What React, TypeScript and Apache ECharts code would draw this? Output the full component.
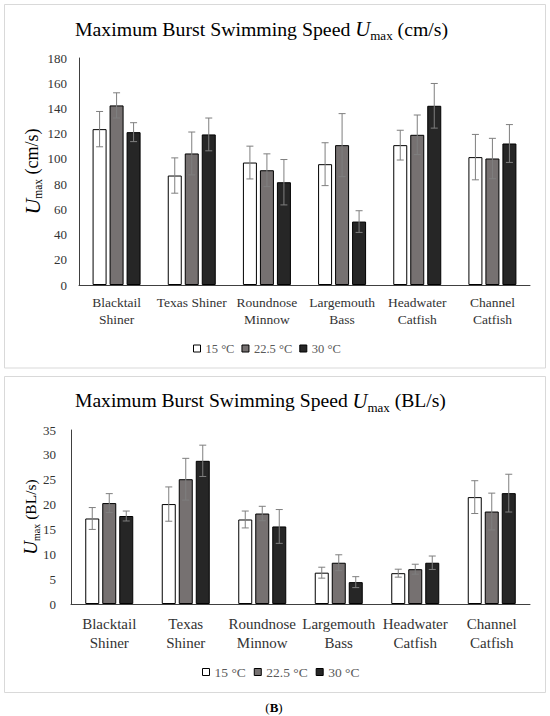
import React, { useEffect, useRef } from 'react';
import * as echarts from 'echarts';

const FONT = 'Liberation Serif';

const categoriesTop = ['Blacktail\nShiner', 'Texas Shiner', 'Roundnose\nMinnow', 'Largemouth\nBass', 'Headwater\nCatfish', 'Channel\nCatfish'];
const categoriesBottom = ['Blacktail\nShiner', 'Texas\nShiner', 'Roundnose\nMinnow', 'Largemouth\nBass', 'Headwater\nCatfish', 'Channel\nCatfish'];
const temps = ['15 °C', '22.5 °C', '30 °C'];

const cmsMean15 = [123.6, 86.8, 97.1, 95.8, 110.9, 101.4];
const cmsMean225 = [142.4, 104.3, 91.0, 110.9, 119.1, 100.3];
const cmsMean30 = [121.2, 119.4, 81.5, 50.3, 142.1, 112.2];
const cmsErr15 = [14, 14, 13, 17, 11.8, 18];
const cmsErr225 = [10, 17, 13, 25, 15.7, 16];
const cmsErr30 = [7.5, 13, 18, 8.6, 17.7, 15];

const blMean15 = [17.2, 20.1, 17.0, 6.3, 6.2, 21.5];
const blMean225 = [20.3, 25.1, 18.2, 8.3, 7.0, 18.6];
const blMean30 = [17.7, 28.8, 15.6, 4.4, 8.3, 22.3];
const blErr15 = [2.2, 3.45, 1.7, 1.1, 0.8, 3.3];
const blErr225 = [1.9, 4.2, 1.45, 1.6, 1.0, 3.7];
const blErr30 = [1.0, 3.15, 3.4, 1.1, 1.35, 3.8];

const topTicks = { min: 0, max: 180, interval: 20 };
const bottomTicks = { min: 0, max: 35, interval: 5 };

const COLORS = ['#ffffff', '#767171', '#262626'];
const ERR = '#7f7f7f';
const AXIS = '#404040';
const BAR_W = 14;
const GAP = 3;

function barSeries(name: string, data: number[], idx: number, color: string) {
  return {
    type: 'bar',
    name,
    xAxisIndex: idx,
    yAxisIndex: idx,
    data,
    barWidth: BAR_W,
    barGap: (GAP / BAR_W) * 100 + '%',
    itemStyle: { color, borderColor: '#000', borderWidth: 1 },
    z: 2,
  };
}

function errSeries(name: string, means: number[], errs: number[], idx: number, slot: number) {
  const offset = (slot - 1) * (BAR_W + GAP);
  return {
    type: 'custom',
    name,
    xAxisIndex: idx,
    yAxisIndex: idx,
    z: 10,
    data: means.map((m, i) => [i, m, errs[i]]),
    encode: { x: 0, y: 1 },
    renderItem: (params: any, api: any) => {
      const c = api.value(0);
      const m = api.value(1);
      const e = api.value(2);
      const top = api.coord([c, m + e]);
      const bot = api.coord([c, m - e]);
      const x = top[0] + offset;
      const st = { stroke: ERR, lineWidth: 1 };
      return {
        type: 'group',
        children: [
          { type: 'line', shape: { x1: x, y1: top[1], x2: x, y2: bot[1] }, style: st },
          { type: 'line', shape: { x1: x - 3.5, y1: top[1], x2: x + 3.5, y2: top[1] }, style: st },
          { type: 'line', shape: { x1: x - 3.5, y1: bot[1], x2: x + 3.5, y2: bot[1] }, style: st },
        ],
      };
    },
  };
}

function richName(fs: number, sub: number, uSize: number) {
  return {
    fontFamily: FONT,
    fontSize: fs,
    color: '#000',
    lineHeight: fs + 6,
    rich: {
      i: { fontFamily: FONT, fontStyle: 'italic', fontSize: uSize, lineHeight: fs + 6, color: '#000' },
      s: { fontFamily: FONT, fontSize: sub, lineHeight: sub + 1, verticalAlign: 'bottom', color: '#000' },
    },
  };
}

function legendData() {
  return temps.map((t, i) => ({
    name: t,
    itemStyle: { color: COLORS[i], borderColor: '#000', borderWidth: 1 },
  }));
}

export default function App() {
  const ref = useRef<HTMLDivElement>(null);
  useEffect(() => {
    const chart = echarts.init(ref.current!, null, { renderer: 'svg' });
    const option: any = {
      animation: false,
      backgroundColor: '#fff',
      textStyle: { fontFamily: FONT },
      title: [
        {
          text: 'Maximum Burst Swimming Speed {i|U}{s|max} (cm/s)',
          left: 70,
          top: 11,
          padding: 5,
          textStyle: { ...richName(19.8, 13, 20.8), fontWeight: 'normal' },
        },
        {
          text: 'Maximum Burst Swimming Speed {i|U}{s|max} (BL/s)',
          left: 70,
          top: 383,
          padding: 5,
          textStyle: { ...richName(19.6, 13, 20.6), fontWeight: 'normal' },
        },
      ],
      legend: [
        {
          left: 193,
          top: 342,
          padding: 0,
          itemWidth: 7,
          itemHeight: 7,
          itemGap: 7,
          icon: 'rect',
          textStyle: { fontFamily: FONT, fontSize: 12.5, color: '#595959' },
          data: legendData(),
        },
        {
          left: 202,
          top: 665,
          padding: 0,
          itemWidth: 7,
          itemHeight: 7,
          itemGap: 8,
          icon: 'rect',
          textStyle: { fontFamily: FONT, fontSize: 13.5, color: '#595959' },
          data: legendData(),
        },
      ],
      grid: [
        { left: 79, right: 20, top: 58, height: 227 },
        { left: 71, right: 20, top: 430, height: 174 },
      ],
      xAxis: [
        {
          type: 'category',
          gridIndex: 0,
          data: categoriesTop,
          axisLine: { lineStyle: { color: AXIS, width: 1 } },
          axisTick: { show: false },
          axisLabel: { interval: 0, fontFamily: FONT, fontSize: 13.5, color: '#333', lineHeight: 17, margin: 9 },
        },
        {
          type: 'category',
          gridIndex: 1,
          data: categoriesBottom,
          axisLine: { lineStyle: { color: AXIS, width: 1 } },
          axisTick: { show: false },
          axisLabel: { interval: 0, fontFamily: FONT, fontSize: 15, color: '#333', lineHeight: 19, margin: 10 },
        },
      ],
      yAxis: [
        {
          type: 'value',
          gridIndex: 0,
          ...topTicks,
          axisLine: { show: true, lineStyle: { color: AXIS, width: 1 } },
          axisTick: { show: false },
          splitLine: { show: false },
          axisLabel: { fontFamily: FONT, fontSize: 13, color: '#333', margin: 12 },
          name: '{i|U}{s|max} (cm/s)',
          nameLocation: 'middle',
          nameRotate: 90,
          nameGap: 35,
          nameMoveOverlap: false,
          nameTextStyle: richName(18, 11.5, 22),
        },
        {
          type: 'value',
          gridIndex: 1,
          ...bottomTicks,
          axisLine: { show: true, lineStyle: { color: AXIS, width: 1 } },
          axisTick: { show: false },
          splitLine: { show: false },
          axisLabel: { fontFamily: FONT, fontSize: 13, color: '#333', margin: 15 },
          name: '{i|U}{s|max} (BL/s)',
          nameLocation: 'middle',
          nameRotate: 90,
          nameGap: 30,
          nameMoveOverlap: false,
          nameTextStyle: richName(15.5, 10, 19),
        },
      ],
      series: [
        barSeries(temps[0], cmsMean15, 0, COLORS[0]),
        barSeries(temps[1], cmsMean225, 0, COLORS[1]),
        barSeries(temps[2], cmsMean30, 0, COLORS[2]),
        barSeries(temps[0], blMean15, 1, COLORS[0]),
        barSeries(temps[1], blMean225, 1, COLORS[1]),
        barSeries(temps[2], blMean30, 1, COLORS[2]),
        errSeries('err-cm-15', cmsMean15, cmsErr15, 0, 0),
        errSeries('err-cm-22.5', cmsMean225, cmsErr225, 0, 1),
        errSeries('err-cm-30', cmsMean30, cmsErr30, 0, 2),
        errSeries('err-bl-15', blMean15, blErr15, 1, 0),
        errSeries('err-bl-22.5', blMean225, blErr225, 1, 1),
        errSeries('err-bl-30', blMean30, blErr30, 1, 2),
      ],
      graphic: [
        {
          type: 'rect',
          silent: true,
          shape: { x: 4.5, y: 4.5, width: 541, height: 363.5 },
          style: { fill: 'none', stroke: '#d9d9d9', lineWidth: 1 },
        },
        {
          type: 'rect',
          silent: true,
          shape: { x: 4.5, y: 376.5, width: 541, height: 316 },
          style: { fill: 'none', stroke: '#d9d9d9', lineWidth: 1 },
        },
        {
          type: 'text',
          x: 274,
          y: 707,
          style: {
            text: '({b|B})',
            fontFamily: FONT,
            fontSize: 13,
            fill: '#000',
            align: 'center',
            verticalAlign: 'middle',
            rich: { b: { fontFamily: FONT, fontSize: 13, fontWeight: 'bold', fill: '#000' } },
          },
        },
      ],
    };
    chart.setOption(option);
    return () => chart.dispose();
  }, []);
  return <div ref={ref} style={{ position: 'absolute', left: 0, top: 0, width: 550, height: 716 }} />;
}
